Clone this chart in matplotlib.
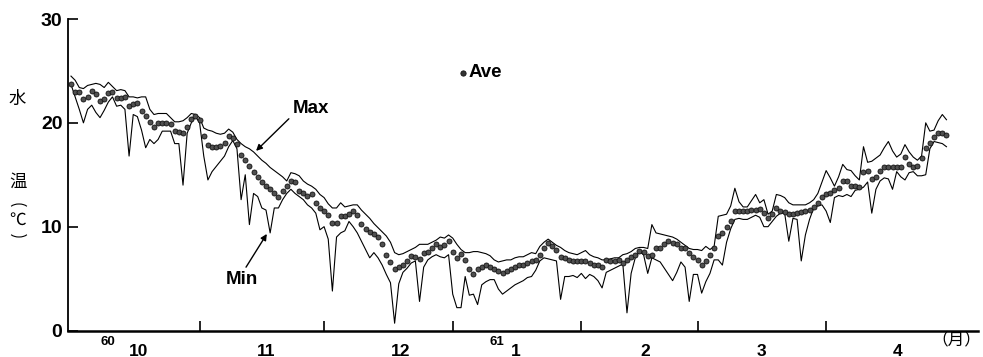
import matplotlib.pyplot as plt
import numpy as np
from matplotlib.patches import Arc
from matplotlib.transforms import blended_transform_factory

# daily water temperature, 1 Oct (S60) .. 30 Apr (S61)
t_max = [24.5, 24.1, 23.4, 23.3, 23.6, 23.7, 23.8, 23.7, 23.4, 23.9,
         23.5, 23.1, 23.2, 23.1, 22.5, 22.5, 22.4, 22.5, 22.5, 21.3,
         20.8, 20.9, 20.9, 20.9, 20.5, 20.1, 20.1, 20.2, 20.5, 20.9,
         20.8, 20.5, 19.5, 19.3, 19.2, 19.0, 18.9, 19.0, 19.4, 19.1,
         18.4, 18.0, 17.7, 17.5, 17.2, 16.8, 16.4, 16.1, 15.7, 15.4,
         15.1, 14.8, 14.4, 15.2, 15.1, 14.9, 14.4, 14.1, 13.9, 13.6,
         13.1, 12.8, 12.2, 11.8, 11.8, 12.3, 11.9, 12.0, 12.1, 12.1,
         11.6, 11.2, 10.8, 10.3, 9.9, 9.5, 9.1, 8.5, 7.5, 7.3,
         7.4, 7.6, 7.8, 8.0, 8.3, 8.3, 8.3, 8.5, 8.7, 9.0,
         8.9, 9.2, 8.9, 8.3, 7.8, 7.5, 7.5, 7.6, 7.6, 7.5,
         7.4, 7.2, 6.8, 6.6, 6.7, 6.8, 6.8, 7.0, 7.1, 7.1,
         7.3, 7.5, 7.4, 8.1, 8.5, 8.8, 8.5, 8.2, 8.0, 7.7,
         7.5, 7.4, 7.3, 7.5, 7.7, 7.3, 7.1, 7.0, 6.8, 6.8,
         6.9, 7.0, 7.0, 7.3, 7.4, 7.6, 7.9, 8.0, 8.0, 7.9,
         10.2, 9.4, 9.3, 9.2, 9.1, 9.0, 8.8, 8.5, 8.2, 7.9,
         7.8, 7.8, 7.7, 8.1, 7.8, 8.1, 11.0, 11.1, 11.2, 12.0,
         13.7, 12.4, 11.9, 11.9, 12.5, 13.1, 12.3, 12.6, 11.2, 11.5,
         13.1, 13.0, 12.8, 12.3, 12.1, 12.1, 12.1, 12.1, 12.3, 12.6,
         13.2, 14.3, 15.4, 14.7, 13.9, 14.8, 16.0, 15.5, 15.4, 14.9,
         14.5, 17.7, 16.2, 16.3, 16.6, 16.9, 17.6, 18.2, 17.3, 16.7,
         17.0, 17.9, 17.2, 16.7, 16.4, 16.8, 20.0, 19.2, 19.3, 20.2,
         20.8, 20.3]

t_min = [23.7, 22.5, 21.3, 20.0, 21.3, 21.7, 21.0, 20.5, 21.2, 22.0,
         22.5, 21.6, 21.7, 21.3, 16.8, 20.8, 20.6, 19.3, 17.6, 18.4,
         18.0, 18.4, 19.2, 19.2, 19.2, 18.0, 18.0, 14.0, 19.0, 20.0,
         20.6, 20.0, 16.8, 14.5, 15.3, 15.8, 16.3, 16.8, 17.7, 18.3,
         17.5, 12.6, 15.0, 10.2, 13.2, 12.9, 11.8, 11.6, 9.4, 11.8,
         11.8, 12.6, 13.2, 13.6, 13.2, 12.9, 12.6, 12.1, 11.8, 11.3,
         9.7, 10.0, 8.8, 3.8, 9.0, 9.4, 9.6, 10.5, 10.0, 9.4,
         8.6, 7.8, 7.0, 7.5, 7.0, 6.3, 5.4, 4.6, 0.7, 4.5,
         5.6, 6.0, 6.5, 6.7, 2.8, 6.1, 6.8, 7.1, 7.3, 7.1,
         7.0, 7.3, 3.5, 2.2, 2.2, 5.2, 3.4, 3.5, 2.5, 4.4,
         4.7, 4.9, 4.9, 4.0, 3.5, 3.8, 4.1, 4.4, 4.6, 4.8,
         5.1, 5.2, 5.8, 6.7, 7.0, 6.9, 6.8, 6.7, 3.0, 5.2,
         5.2, 5.3, 5.1, 5.5, 5.0, 5.4, 5.2, 4.8, 4.1, 5.6,
         5.8, 6.0, 6.2, 6.4, 1.7, 5.5, 7.0, 7.6, 7.3, 5.5,
         7.0, 6.8, 6.6, 6.0, 5.4, 4.8, 5.6, 6.6, 6.1, 2.8,
         5.4, 5.4, 3.6, 4.7, 5.5, 6.8, 6.8, 6.3, 8.5, 9.8,
         10.7, 10.8, 10.7, 10.7, 10.9, 11.1, 10.9, 10.0, 10.0, 10.5,
         11.0, 11.3, 11.3, 8.6, 10.8, 10.7, 6.7, 9.2, 10.7, 11.8,
         12.0, 12.1, 11.5, 10.4, 12.8, 13.0, 12.9, 13.1, 12.9, 13.5,
         13.6, 13.8, 14.3, 11.3, 13.6, 14.4, 14.7, 14.6, 13.6, 15.3,
         14.8, 14.5, 15.2, 15.3, 14.9, 14.9, 15.0, 17.5, 18.2, 18.1,
         18.0, 17.7]

t_ave = [23.7, 23.0, 23.0, 22.3, 22.5, 23.1, 22.8, 22.1, 22.3, 22.9,
         23.0, 22.4, 22.4, 22.5, 21.6, 21.8, 21.9, 21.1, 20.7, 20.1,
         19.6, 20.0, 20.0, 20.0, 19.9, 19.2, 19.1, 19.0, 19.6, 20.4,
         20.7, 20.3, 18.7, 17.9, 17.7, 17.7, 17.8, 18.1, 18.7, 18.5,
         18.0, 16.9, 16.4, 15.8, 15.3, 14.8, 14.3, 13.9, 13.6, 13.2,
         12.9, 13.4, 13.9, 14.4, 14.3, 13.4, 13.2, 13.0, 13.1, 12.3,
         11.8, 11.5, 11.1, 10.4, 10.4, 11.0, 11.0, 11.2, 11.5, 11.1,
         10.3, 9.8, 9.5, 9.3, 9.0, 8.3, 7.3, 6.6, 5.9, 6.1,
         6.3, 6.7, 7.2, 7.1, 6.9, 7.5, 7.6, 7.9, 8.3, 8.0,
         8.2, 8.6, 7.6, 7.0, 7.4, 6.8, 5.9, 5.4, 5.9, 6.1,
         6.3, 6.1, 5.9, 5.7, 5.5, 5.7, 5.9, 6.1, 6.3, 6.3,
         6.5, 6.7, 6.8, 7.3, 7.9, 8.4, 8.1, 7.8, 7.1, 7.0,
         6.8, 6.7, 6.7, 6.7, 6.7, 6.5, 6.3, 6.3, 6.1, 6.8,
         6.7, 6.7, 6.8, 6.5, 6.8, 7.1, 7.3, 7.7, 7.6, 7.2,
         7.3, 7.9, 7.9, 8.3, 8.6, 8.4, 8.3, 7.9, 7.9, 7.5,
         7.1, 6.8, 6.3, 6.7, 7.3, 7.9, 9.1, 9.4, 10.0, 10.5,
         11.5, 11.5, 11.5, 11.5, 11.6, 11.6, 11.7, 11.3, 10.8, 11.2,
         11.8, 11.5, 11.4, 11.2, 11.2, 11.3, 11.4, 11.5, 11.6, 11.9,
         12.3, 12.9, 13.1, 13.2, 13.5, 13.7, 14.4, 14.4, 13.9, 13.9,
         13.8, 15.3, 15.4, 14.6, 14.8, 15.4, 15.7, 15.7, 15.7, 15.7,
         15.7, 16.7, 16.0, 15.7, 15.8, 16.6, 17.6, 18.1, 18.6, 19.0,
         19.0, 18.8]

month_len = [31, 30, 31, 31, 28, 31, 30]
month_names = ['10', '11', '12', '1', '2', '3', '4']
year_names = ['60', '61']

if __name__ == '__main__':
    plt.rcParams['font.family'] = ['Liberation Sans', 'Noto Sans CJK JP']
    cjk = ['Noto Sans CJK JP', 'DejaVu Sans']

    days = np.arange(len(t_max))
    bounds = np.cumsum(month_len)[:-1]

    fig = plt.figure(figsize=(9.83, 3.57), dpi=100)
    ax = fig.add_axes([68 / 983, 1 - 330.5 / 357, 910 / 983, 311.5 / 357])

    ax.plot(days, t_max, color='k', lw=0.8)
    ax.plot(days, t_min, color='k', lw=0.8)
    ax.plot(days, t_ave, 'o', ms=3.6, mfc='#505050', mec='#111111', mew=0.6, ls='none')

    ax.set_xlim(-0.72, 218.6)
    ax.set_ylim(0, 30)
    for s in ['top', 'right']:
        ax.spines[s].set_visible(False)
    ax.spines['left'].set_linewidth(1.3)
    ax.spines['bottom'].set_linewidth(1.8)

    ax.set_yticks([0, 10, 20, 30])
    ax.tick_params(axis='y', direction='in', length=7, width=1.2, pad=4, labelsize=14)
    for lab in ax.get_yticklabels():
        lab.set_fontweight('bold')
    ax.set_xticks(bounds)
    ax.set_xticklabels([])
    ax.tick_params(axis='x', direction='in', length=7, width=1.2)

    # month labels under the axis
    trans = blended_transform_factory(ax.transData, ax.transAxes)
    label_x = [16.4, 47.0, 79.5, 107.2, 138.3, 166.5, 199.3]
    for x, name in zip(label_x, month_names):
        ax.text(x, -0.066, name, transform=trans, ha='center', va='center',
                fontsize=12.5, fontweight='bold')
    for x, name in zip([8.8, 102.7], year_names):
        ax.text(x, -0.037, name, transform=trans, ha='center', va='center',
                fontsize=9.5, fontweight='bold')
    ax.text(213.3, -0.03, '（月）', transform=trans, ha='center', va='center',
            fontsize=12, family=cjk)

    # vertical y label: 水温 (℃), brackets drawn as arcs
    fig.text(17 / 983, 1 - 99 / 357, '水', ha='center', va='center', fontsize=12.5, family=cjk)
    fig.text(18 / 983, 1 - 182 / 357, '温', ha='center', va='center', fontsize=12.5, family=cjk)
    fig.text(18 / 983, 1 - 220 / 357, '℃', ha='center', va='center', fontsize=12, family=cjk)
    inch = fig.dpi_scale_trans
    fig.patches.append(Arc((0.19, 1.47), 0.20, 0.12, theta1=25, theta2=155,
                           transform=inch, color='k', lw=0.8))
    fig.patches.append(Arc((0.19, 1.26), 0.20, 0.12, theta1=205, theta2=335,
                           transform=inch, color='k', lw=0.8))

    ax.annotate('Max', xy=(44.6, 17.3), xytext=(57.8, 21.4), ha='center', va='center',
                fontsize=13.5, fontweight='bold',
                arrowprops=dict(arrowstyle='-|>', color='k', lw=1.0, mutation_scale=9,
                                shrinkA=1, shrinkB=0, relpos=(0.0, 0.1)))
    ax.annotate('Min', xy=(47.2, 9.3), xytext=(41.2, 4.9), ha='center', va='center',
                fontsize=13.5, fontweight='bold',
                arrowprops=dict(arrowstyle='-|>', color='k', lw=1.0, mutation_scale=9,
                                shrinkA=1, shrinkB=0, relpos=(0.55, 1.0)))
    ax.plot([94.5], [24.8], 'o', ms=3.8, mfc='#333333', mec='#111111', mew=0.6)
    ax.text(95.8, 24.85, 'Ave', ha='left', va='center', fontsize=13.5, fontweight='bold')

    fig.savefig('out.png', dpi=100)
